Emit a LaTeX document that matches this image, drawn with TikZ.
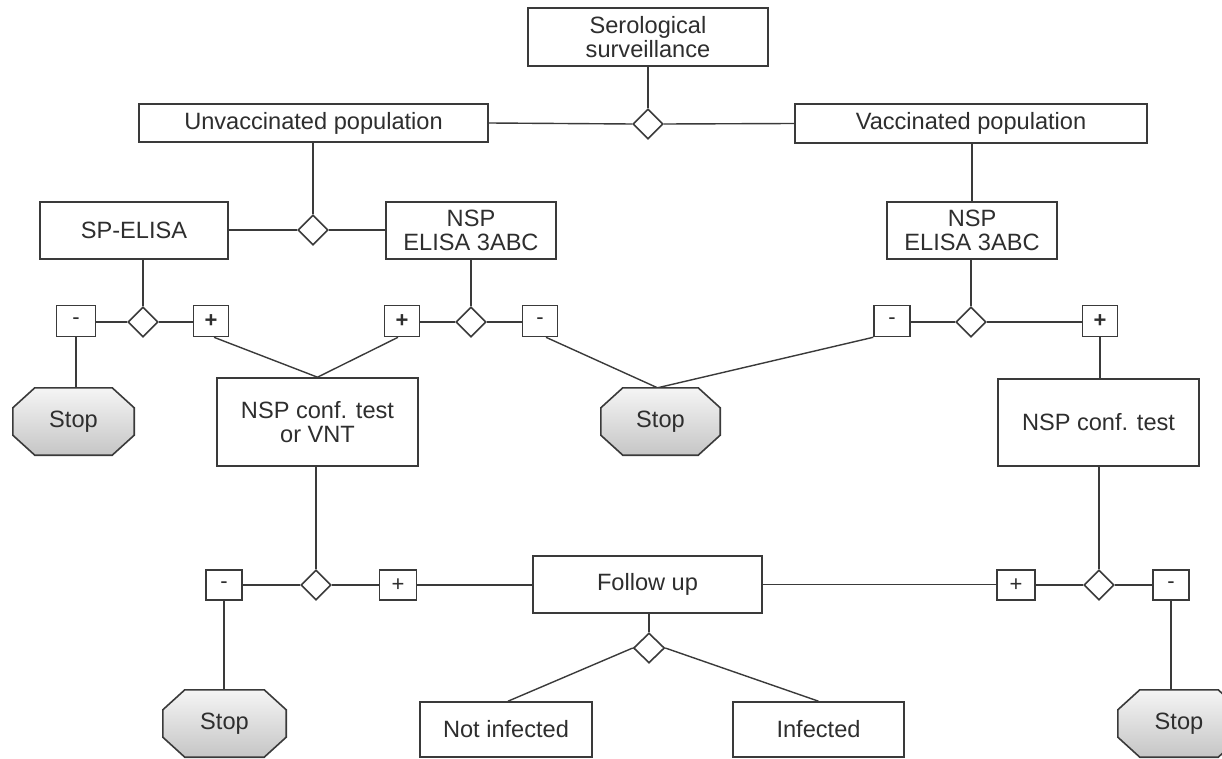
\documentclass[tikz,border=0pt]{standalone}
\usepackage{fontspec}
\setmainfont{Liberation Sans}
\usetikzlibrary{shapes.geometric}
\definecolor{linec}{HTML}{3A3A3A}
\definecolor{textc}{HTML}{2E2E2E}
\tikzset{
  base/.style={draw=linec, line width=1.6pt, text=textc, font=\fontsize{23.6}{24}\selectfont, align=center, inner sep=0pt},
  box/.style={base, rectangle, fill=white},
  wh/.style 2 args={minimum width=#1pt, minimum height=#2pt},
  sign/.style={base, rectangle, fill=white, minimum width=35pt, minimum height=31pt, font=\fontsize{22}{22}\selectfont},
  dia/.style={base, diamond, fill=white, minimum width=30pt, minimum height=30pt},
  stopbox/.style={rectangle, draw=none, inner sep=0pt},
  stoptext/.style={text=textc, font=\fontsize{23.6}{24}\selectfont, inner sep=0pt},
  conn/.style={draw=linec, line width=1.4pt},
}
\newcommand\octpath[1]{%
    ([xshift=22pt]#1.north west) -- ([xshift=-22pt]#1.north east) --
    ([yshift=-20pt]#1.north east) -- ([yshift=20pt]#1.south east) --
    ([xshift=-22pt]#1.south east) -- ([xshift=22pt]#1.south west) --
    ([yshift=20pt]#1.south west) -- ([yshift=-20pt]#1.north west) -- cycle}
\newcommand\drawoct[1]{%
  \fill[gray!55, xshift=1.5pt, yshift=-1.5pt] \octpath{#1};
  \shade[draw=linec, line width=1.6pt, top color=gray!8, bottom color=gray!45] \octpath{#1};}
\begin{document}
\begin{tikzpicture}[x=1pt, y=-1pt]
\useasboundingbox[fill=white] (0,0) rectangle (1222,759);
\clip (0,0) rectangle (1222,759);

% ---- nodes ----
\node[box, wh={240}{58}] (ser) at (648,37) {Serological\\surveillance};
\node[dia] (d0) at (648,124) {};
\node[box, wh={349}{38}] (unv) at (313.5,123) {Unvaccinated population};
\node[box, wh={352}{39}] (vac) at (971,123.5) {Vaccinated population};

\node[dia] (d1) at (313,230) {};
\node[box, wh={188}{57}] (sp) at (134,230.5) {SP-ELISA};
\node[box, wh={170}{57}] (nspL) at (471,230.5) {NSP\\ELISA 3ABC};
\node[box, wh={170}{57}] (nspR) at (972,230.5) {NSP\\ELISA 3ABC};

\node[dia] (d2) at (143,322) {};
\node[sign, minimum width=39pt] (mL1) at (76,321) {-};
\node[sign] (pL1) at (211,321) {\textbf{+}};
\node[dia] (d3) at (471,322) {};
\node[sign] (pL2) at (402,321) {\textbf{+}};
\node[sign] (mL2) at (540,321) {-};
\node[dia] (d4) at (971,322) {};
\node[sign, minimum width=36pt] (mR) at (892,321) {-};
\node[sign] (pR) at (1100,321) {\textbf{+}};

\node[stopbox, wh={121}{67}] (stop1) at (73.5,421.5) {};
\node[box, wh={201}{88}] (conf1) at (317.5,422) {NSP conf. test\\or VNT};
\node[stopbox, wh={119}{67}] (stop2) at (660.5,421.5) {};
\node[box, wh={201}{87}] (conf2) at (1098.5,422.5) {NSP conf. test};

\node[dia] (d5) at (316,585) {};
\node[sign, minimum width=36pt, minimum height=30pt] (mB1) at (224,585) {-};
\node[sign, minimum width=37pt, minimum height=30pt] (pB1) at (398,585) {+};
\node[box, wh={229}{57}] (fol) at (647.5,584.5) {Follow up};
\node[sign, minimum width=38pt, minimum height=30pt] (pB2) at (1016,585) {+};
\node[dia] (d6) at (1099,585) {};
\node[sign, minimum width=36pt, minimum height=30pt] (mB2) at (1171,585) {-};

\node[dia, minimum width=31pt, minimum height=30pt] (d7) at (649,648) {};
\node[stopbox, wh={123}{67}] (stop3) at (224.5,723.5) {};
\node[stopbox, wh={122}{67}] (stop4) at (1179,723.5) {};
\node[box, wh={172}{55}] (notinf) at (506,729.5) {Not infected};
\node[box, wh={171}{55}] (inf) at (818.5,729.5) {Infected};

% ---- connectors ----
\draw[conn] (ser.south) -- (d0.north);
\draw[conn] (unv.east) -- (d0.west);
\draw[conn] (d0.east) -- (vac.west);
\draw[conn] (unv.south -| d1) -- (d1.north);
\draw[conn] (d1.west) -- (d1.west -| sp.east);
\draw[conn] (d1.east) -- (d1.east -| nspL.west);
\draw[conn] (vac.south -| nspR) -- (nspR.north);
\draw[conn] (sp.south -| d2) -- (d2.north);
\draw[conn] (d2.west) -- (d2.west -| mL1.east);
\draw[conn] (d2.east) -- (d2.east -| pL1.west);
\draw[conn] (nspL.south -| d3) -- (d3.north);
\draw[conn] (d3.west) -- (d3.west -| pL2.east);
\draw[conn] (d3.east) -- (d3.east -| mL2.west);
\draw[conn] (nspR.south -| d4) -- (d4.north);
\draw[conn] (d4.west) -- (d4.west -| mR.east);
\draw[conn] (d4.east) -- (d4.east -| pR.west);
\draw[conn] (mL1.south) -- (mL1.south |- stop1.north);
\draw[conn] ([xshift=3pt]pL1.south) -- (conf1.north);
\draw[conn] ([xshift=-4pt]pL2.south) -- (conf1.north);
\draw[conn] ([xshift=6pt]mL2.south) -- ([xshift=-3pt]stop2.north);
\draw[conn] (mR.south west) -- ([xshift=-3pt]stop2.north);
\draw[conn] (pR.south) -- (pR.south |- conf2.north);
\draw[conn] (conf1.south -| d5) -- (d5.north);
\draw[conn] (d5.west) -- (mB1.east);
\draw[conn] (d5.east) -- (pB1.west);
\draw[conn] (pB1.east) -- (pB1.east -| fol.west);
\draw[conn] (fol.east) -- (fol.east -| pB2.west);
\draw[conn] (pB2.east) -- (d6.west);
\draw[conn] (d6.east) -- (mB2.west);
\draw[conn] (conf2.south -| d6) -- (d6.north);
\draw[conn] (mB1.south) -- (mB1.south |- stop3.north);
\draw[conn] (mB2.south) -- (mB2.south |- stop4.north);
\draw[conn] (fol.south -| d7) -- (d7.north);
\draw[conn] (d7.west) -- ([xshift=2pt]notinf.north);
\draw[conn] (d7.east) -- (inf.north);

% ---- stop octagons ----
\drawoct{stop1}
\drawoct{stop2}
\drawoct{stop3}
\drawoct{stop4}
\node[stoptext] (stop1t) at (stop1) {Stop};
\node[stoptext] (stop2t) at (stop2) {Stop};
\node[stoptext] (stop3t) at (stop3) {Stop};
\node[stoptext] (stop4t) at (stop4) {Stop};
\end{tikzpicture}
\end{document}
